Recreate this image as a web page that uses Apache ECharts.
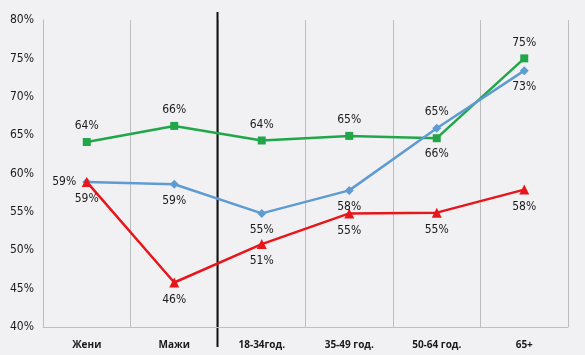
<!DOCTYPE html>
<html>
<head>
<meta charset="utf-8">
<script src="https://cdn.jsdelivr.net/npm/echarts@6/dist/echarts.min.js"></script>
<style>
html,body{margin:0;padding:0;background:#f1f1f3;}
#c{width:585px;height:355px;}
</style>
</head>
<body>
<div id="c"></div>
<script>
var categories = ['Жени', 'Мажи', '18-34год.', '35-49 год.', '50-64 год.', '65+'];
var yTicks = [40, 45, 50, 55, 60, 65, 70, 75, 80];

var greenValues = [64.1, 66.2, 64.3, 64.9, 64.6, 75.0];
var greenLabels = ['64%', '66%', '64%', '65%', '66%', '75%'];
var greenPos = ['top', 'top', 'top', 'top', 'bottom', 'top'];

var blueValues = [58.9, 58.6, 54.8, 57.8, 65.9, 73.4];
var blueLabels = ['59%', '59%', '55%', '58%', '65%', '73%'];
var bluePos = ['left', 'bottom', 'bottom', 'bottom', 'top', 'bottom'];

var redValues = [58.9, 45.8, 50.8, 54.8, 54.9, 57.9];
var redLabels = ['59%', '46%', '51%', '55%', '55%', '58%'];
var redPos = ['bottom', 'bottom', 'bottom', 'bottom', 'bottom', 'bottom'];

var FONT = "'Liberation Sans Narrow', 'DejaVu Sans Condensed', 'Open Sans', sans-serif";

function buildData(vals, labels, pos) {
  return vals.map(function (v, i) {
    return { value: v, label: { position: pos[i], formatter: labels[i] } };
  });
}

function makeSeries(name, vals, labels, pos, color, symbol, size) {
  return {
    name: name,
    type: 'line',
    data: buildData(vals, labels, pos),
    symbol: symbol,
    symbolSize: size,
    lineStyle: { color: color, width: 2.5 },
    itemStyle: { color: color },
    label: { show: true, color: '#1a1a1a', fontSize: 12, fontFamily: FONT, distance: 6 },
    emphasis: { disabled: true },
    animation: false
  };
}

var chart = echarts.init(document.getElementById('c'), null, { renderer: 'canvas' });
chart.setOption({
  backgroundColor: '#f1f1f3',
  animation: false,
  grid: { left: 43, right: 17, top: 20, bottom: 28 },
  xAxis: {
    type: 'category',
    data: categories,
    boundaryGap: true,
    axisLine: { show: true, lineStyle: { color: '#bfbfbf', width: 1 } },
    axisTick: { show: false },
    splitLine: { show: true, lineStyle: { color: '#bdbdbd', width: 1 } },
    axisLabel: { color: '#1a1a1a', fontSize: 10, fontWeight: 'bold', fontFamily: "'Open Sans', sans-serif", margin: 13 }
  },
  yAxis: {
    type: 'value',
    min: yTicks[0],
    max: yTicks[yTicks.length - 1],
    interval: yTicks[1] - yTicks[0],
    axisLine: { show: true, lineStyle: { color: '#bdbdbd', width: 1 } },
    axisTick: { show: false },
    splitLine: { show: false },
    axisLabel: { formatter: '{value}%', color: '#1a1a1a', fontSize: 12, fontFamily: FONT, margin: 9 }
  },
  series: [
    makeSeries('green', greenValues, greenLabels, greenPos, '#21a64a', 'rect', 8),
    makeSeries('blue', blueValues, blueLabels, bluePos, '#5f9bd3', 'diamond', 9),
    makeSeries('red', redValues, redLabels, redPos, '#e8161b', 'triangle', 10)
  ]
});

// separator between gender and age groups
var p1 = chart.convertToPixel({ xAxisIndex: 0 }, categories[1]);
var p2 = chart.convertToPixel({ xAxisIndex: 0 }, categories[2]);
var sepX = Math.floor((p1 + p2) / 2) - 0.5;
chart.setOption({
  graphic: [{
    type: 'line',
    shape: { x1: sepX, y1: 12, x2: sepX, y2: 347 },
    style: { stroke: '#111111', lineWidth: 2 },
    silent: true
  }]
});
</script>
</body>
</html>
